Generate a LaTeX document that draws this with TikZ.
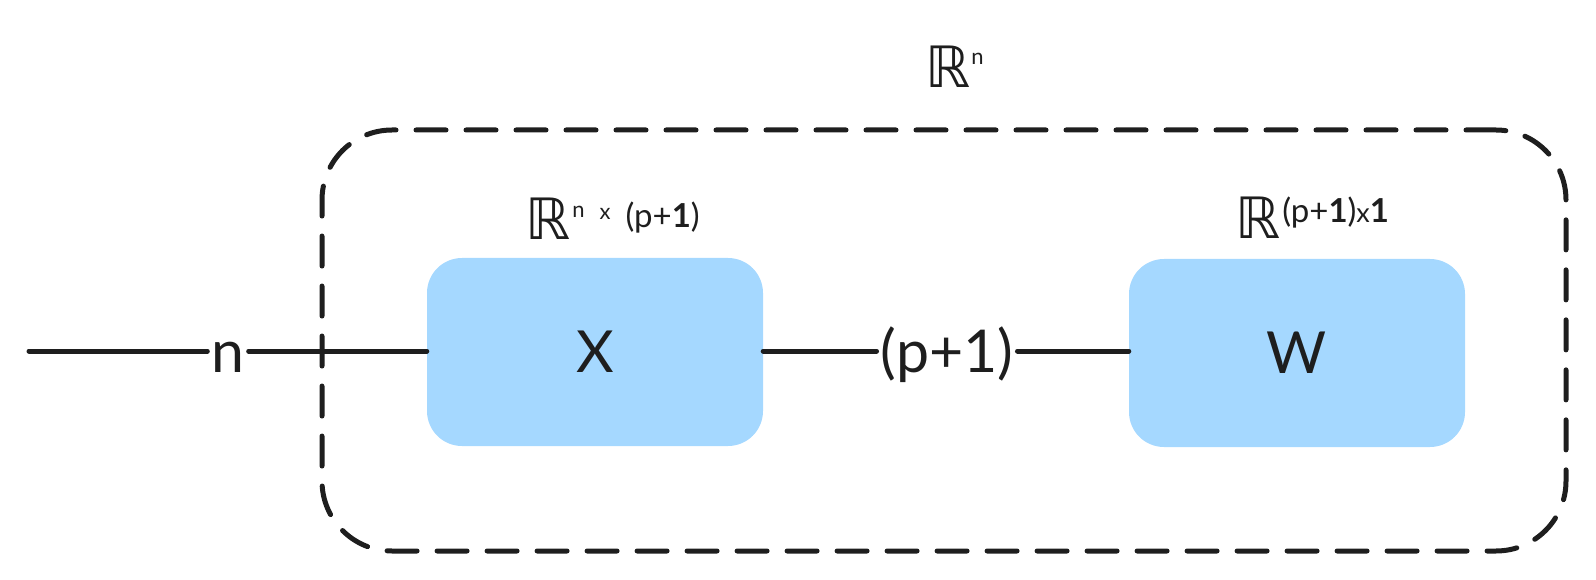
\documentclass[tikz,border=0pt]{standalone}
\usepackage{fontspec}
\setmainfont{Lato}
\newfontfamily\djv{DejaVu Sans}
\definecolor{boxblue}{HTML}{A5D8FF}
\definecolor{ink}{HTML}{1E1E1E}
\tikzset{
  wire/.style={draw=ink, line width=5pt, line cap=round},
  frameline/.style={draw=ink, line width=5pt, line cap=round, dash pattern=on 30pt off 20pt, rounded corners=70pt},
  blockbox/.style={fill=boxblue, rounded corners=35pt, minimum width=336pt, minimum height=188pt, text=ink, font=\fontsize{58}{60}\selectfont},
  bigtext/.style={text=ink, inner sep=4pt, font=\fontsize{59}{62}\selectfont},
  dimlabel/.style={text=ink, inner sep=0pt, anchor=base west}
}
\newcommand{\BigR}{{\fontsize{57}{60}\selectfont\djv ℝ}}
\newcommand{\SmallSup}[2]{{\fontsize{22}{24}\selectfont\raisebox{#1}{#2}}}
\newcommand{\MidSup}[2]{{\fontsize{27}{28}\selectfont\raisebox{#1}{#2}}}
\newcommand{\BigSup}[2]{{\fontsize{33}{36}\selectfont\raisebox{#1}{#2}}}
\begin{document}
\begin{tikzpicture}[x=1pt,y=-1pt]
\useasboundingbox (0,0) rectangle (1596,580);
% frame
\node[frameline, minimum width=1244pt, minimum height=421pt] (frame) at (944,340.5) {};
% blocks
\node[blockbox] (X) at (595,352) {X};
\node[blockbox] (W) at (1297,353) {W};
% labels on wires
\node[bigtext, anchor=base] (n) at (228,372) {n};
\node[bigtext, anchor=base] (p) at (947,372) {(p+1)};
\coordinate (L) at (29,351);
\draw[wire] (L) -- (L -| n.west);
\draw[wire] (L -| n.east) -- (L -| X.west);
\draw[wire] (X.east |- L) -- (L -| p.west);
\draw[wire] (L -| p.east) -- (L -| W.west);
% dimension labels
\node[dimlabel] (rn) at (925,88) {\BigR\hspace{1pt}\SmallSup{23pt}{n}};
\node[dimlabel] (rx) at (525,240) {\BigR\hspace{2pt}\SmallSup{22pt}{n}\hspace{15pt}\SmallSup{20pt}{x}\hspace{15pt}\BigSup{12pt}{(p+\textbf{1})}};
\node[dimlabel] (rw) at (1235,239) {\BigR\hspace{2pt}\BigSup{16pt}{(p+\textbf{1})}\MidSup{16pt}{x}\BigSup{16pt}{\textbf{1}}};
\end{tikzpicture}
\end{document}
